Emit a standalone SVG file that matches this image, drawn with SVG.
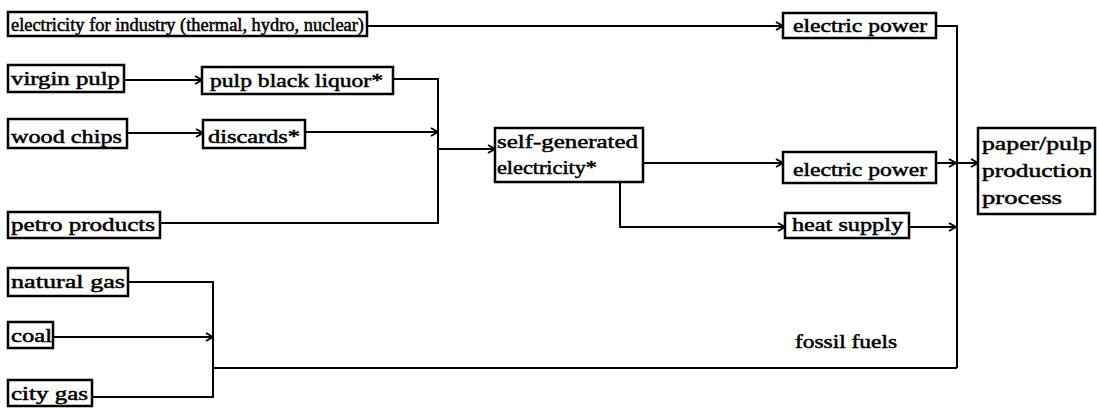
<svg xmlns="http://www.w3.org/2000/svg" width="1097" height="408" viewBox="0 0 1097 408">
<style>
.b{fill:#fff;stroke:#000;stroke-width:2.5}
.t{font-family:"Liberation Serif","DejaVu Serif",serif;font-size:19px;fill:#000;stroke:#000;stroke-width:0.5}
.t1{font-size:18px}
.c{fill:none;stroke:#000;stroke-width:2}
</style>
<defs>
<marker id="a" viewBox="0 0 10 10" refX="9" refY="5" markerWidth="10" markerHeight="10" markerUnits="userSpaceOnUse" orient="auto">
<path d="M2,1 L9,5 L2,9" fill="none" stroke="#000" stroke-width="2"/>
</marker>
</defs>
<rect width="1097" height="408" fill="#fff"/>
<g id="connectors">
<path class="c" d="M367,26 H783" marker-end="url(#a)"/>
<path class="c" d="M936,26 H957 V368"/>
<path class="c" d="M124,80 H202" marker-end="url(#a)"/>
<path class="c" d="M127,133 H203" marker-end="url(#a)"/>
<path class="c" d="M393,79 H438 V223 H160"/>
<path class="c" d="M305,132 H438" marker-end="url(#a)"/>
<path class="c" d="M438,149 H495" marker-end="url(#a)"/>
<path class="c" d="M643,163 H783" marker-end="url(#a)"/>
<path class="c" d="M620,182 V227 H785" marker-end="url(#a)"/>
<path class="c" d="M936,163 H956" marker-end="url(#a)"/>
<path class="c" d="M957,163 H978" marker-end="url(#a)"/>
<path class="c" d="M909,227 H956" marker-end="url(#a)"/>
<path class="c" d="M128,282 H213 V397 H92"/>
<path class="c" d="M53,337 H213" marker-end="url(#a)"/>
<path class="c" d="M213,368 H957"/>
</g>
<g id="n-electricity-industry"><rect class="b" x="8" y="12" width="359" height="24"/><text class="t t1" x="11" y="31" textLength="353" lengthAdjust="spacingAndGlyphs">electricity for industry (thermal, hydro, nuclear)</text></g>
<g id="n-electric-power-1"><rect class="b" x="783" y="13" width="153" height="25"/><text class="t" x="793" y="32" textLength="134" lengthAdjust="spacingAndGlyphs">electric power</text></g>
<g id="n-virgin-pulp"><rect class="b" x="8" y="65" width="116" height="27"/><text class="t" x="11" y="85" textLength="109" lengthAdjust="spacingAndGlyphs">virgin pulp</text></g>
<g id="n-pulp-black-liquor"><rect class="b" x="202" y="67" width="191" height="27"/><text class="t" x="210" y="87" textLength="173" lengthAdjust="spacingAndGlyphs">pulp black liquor*</text></g>
<g id="n-wood-chips"><rect class="b" x="8" y="119" width="119" height="29"/><text class="t" x="11" y="143" textLength="111" lengthAdjust="spacingAndGlyphs">wood chips</text></g>
<g id="n-discards"><rect class="b" x="203" y="120" width="102" height="28"/><text class="t" x="208" y="143" textLength="92" lengthAdjust="spacingAndGlyphs">discards*</text></g>
<g id="n-petro-products"><rect class="b" x="8" y="212" width="152" height="26"/><text class="t" x="11" y="231" textLength="144" lengthAdjust="spacingAndGlyphs">petro products</text></g>
<g id="n-self-generated"><rect class="b" x="495" y="128" width="148" height="54"/><text class="t" x="497" y="148" textLength="141" lengthAdjust="spacingAndGlyphs">self-generated</text><text class="t" x="497" y="174" textLength="100" lengthAdjust="spacingAndGlyphs">electricity*</text></g>
<g id="n-electric-power-2"><rect class="b" x="783" y="152" width="153" height="31"/><text class="t" x="793" y="176" textLength="134" lengthAdjust="spacingAndGlyphs">electric power</text></g>
<g id="n-heat-supply"><rect class="b" x="785" y="213" width="124" height="25"/><text class="t" x="792" y="231" textLength="111" lengthAdjust="spacingAndGlyphs">heat supply</text></g>
<g id="n-paper-pulp"><rect class="b" x="978" y="128" width="117" height="86"/><text class="t" x="982" y="150" textLength="110" lengthAdjust="spacingAndGlyphs">paper/pulp</text><text class="t" x="982" y="177" textLength="110" lengthAdjust="spacingAndGlyphs">production</text><text class="t" x="982" y="204" textLength="80" lengthAdjust="spacingAndGlyphs">process</text></g>
<g id="n-natural-gas"><rect class="b" x="8" y="268" width="120" height="28"/><text class="t" x="11" y="288" textLength="114" lengthAdjust="spacingAndGlyphs">natural gas</text></g>
<g id="n-coal"><rect class="b" x="8" y="322" width="45" height="26"/><text class="t" x="11" y="342" textLength="41" lengthAdjust="spacingAndGlyphs">coal</text></g>
<g id="n-city-gas"><rect class="b" x="8" y="380" width="84" height="26"/><text class="t" x="11" y="400" textLength="77" lengthAdjust="spacingAndGlyphs">city gas</text></g>
<g id="label-fossil"><text class="t" x="795" y="348" textLength="102" lengthAdjust="spacingAndGlyphs">fossil fuels</text></g>
</svg>
